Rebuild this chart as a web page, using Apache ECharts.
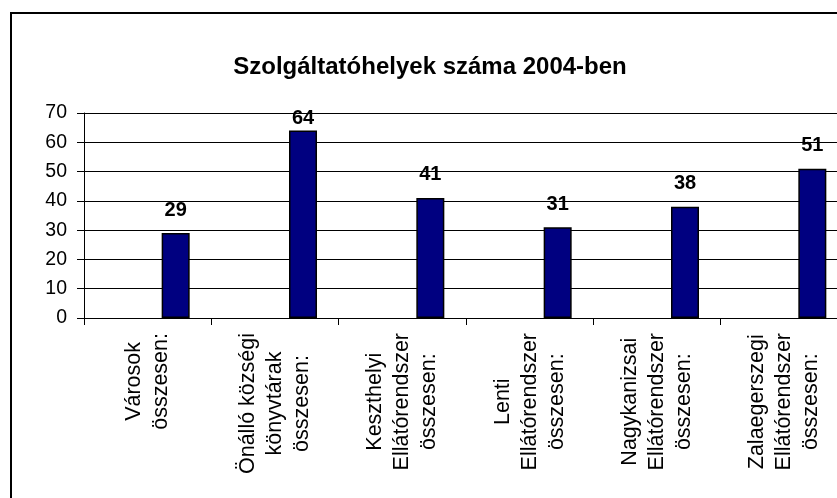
<!DOCTYPE html>
<html>
<head>
<meta charset="utf-8">
<script src="https://cdn.jsdelivr.net/npm/echarts@6/dist/echarts.min.js"></script>
<style>
  html, body { margin: 0; padding: 0; background: #fff; }
  #chart { width: 837px; height: 498px; }
</style>
</head>
<body>
<div id="chart"></div>
<script>
const TITLE = 'Szolgáltatóhelyek száma 2004-ben'
const CATEGORIES = [
  'Városok\nösszesen:',
  'Önálló községi\nkönyvtárak\nösszesen:',
  'Keszthelyi\nEllátórendszer\nösszesen:',
  'Lenti\nEllátórendszer\nösszesen:',
  'Nagykanizsai\nEllátórendszer\nösszesen:',
  'Zalaegerszegi\nEllátórendszer\nösszesen:'
]
const VALUES = [29, 64, 41, 31, 38, 51]
const Y_MIN = 0
const Y_MAX = 70
const Y_STEP = 10

const FONT = "'Liberation Sans', Arial, sans-serif"
// data labels are not allowed to climb above this line (like the original)
const LABEL_TOP_LIMIT = 108

const chart = echarts.init(document.getElementById('chart'))

chart.setOption({
  animation: false,
  backgroundColor: '#fff',
  title: {
    text: TITLE,
    left: 425,
    top: 50,
    textAlign: 'center',
    textStyle: { fontFamily: FONT, fontSize: 24, fontWeight: 'bold', color: '#000' }
  },
  grid: {
    left: 84,
    top: 113,
    width: 764,
    height: 205,
    containLabel: false,
    outerBoundsMode: 'none'
  },
  xAxis: {
    type: 'category',
    data: CATEGORIES,
    axisLine: { lineStyle: { color: '#000', width: 1 } },
    axisTick: { show: true, length: 7, lineStyle: { color: '#000' } },
    axisLabel: {
      rotate: 90,
      margin: 15,
      interval: 0,
      hideOverlap: false,
      formatter: v => v.split('\n').map(s => '{c|' + s + '}').join('\n'),
      rich: {
        c: { align: 'center', fontFamily: FONT, fontSize: 21.5, lineHeight: 27, color: '#000' }
      }
    },
    splitLine: { show: false }
  },
  yAxis: {
    type: 'value',
    min: Y_MIN,
    max: Y_MAX,
    interval: Y_STEP,
    axisLine: { show: true, lineStyle: { color: '#000', width: 1 } },
    axisTick: { show: true, length: 7, lineStyle: { color: '#000' } },
    axisLabel: { fontFamily: FONT, fontSize: 19.5, color: '#000', margin: 17 },
    splitLine: { show: true, lineStyle: { color: '#000', width: 1 } }
  },
  series: [
    // empty first series keeps the bars shifted right as in the original
    { type: 'bar', data: [], barWidth: 28, barGap: '100%' },
    {
      type: 'bar',
      data: VALUES,
      barWidth: 28,
      barGap: '100%',
      itemStyle: { color: '#000080', borderColor: '#000', borderWidth: 1.5 },
      label: {
        show: true,
        position: 'top',
        distance: 13,
        fontFamily: FONT,
        fontSize: 20,
        fontWeight: 'bold',
        color: '#000'
      },
      labelLayout(p) {
        const r = p.labelRect
        if (r.y >= LABEL_TOP_LIMIT) return {}
        return {
          x: r.x + r.width / 2,
          y: LABEL_TOP_LIMIT + r.height,
          align: 'center',
          verticalAlign: 'bottom'
        }
      }
    }
  ],
  graphic: [{
    type: 'rect',
    silent: true,
    z: 100,
    shape: { x: 11, y: 13, width: 1000, height: 1000 },
    style: { fill: 'none', stroke: '#000', lineWidth: 2 }
  }]
})
</script>
</body>
</html>
